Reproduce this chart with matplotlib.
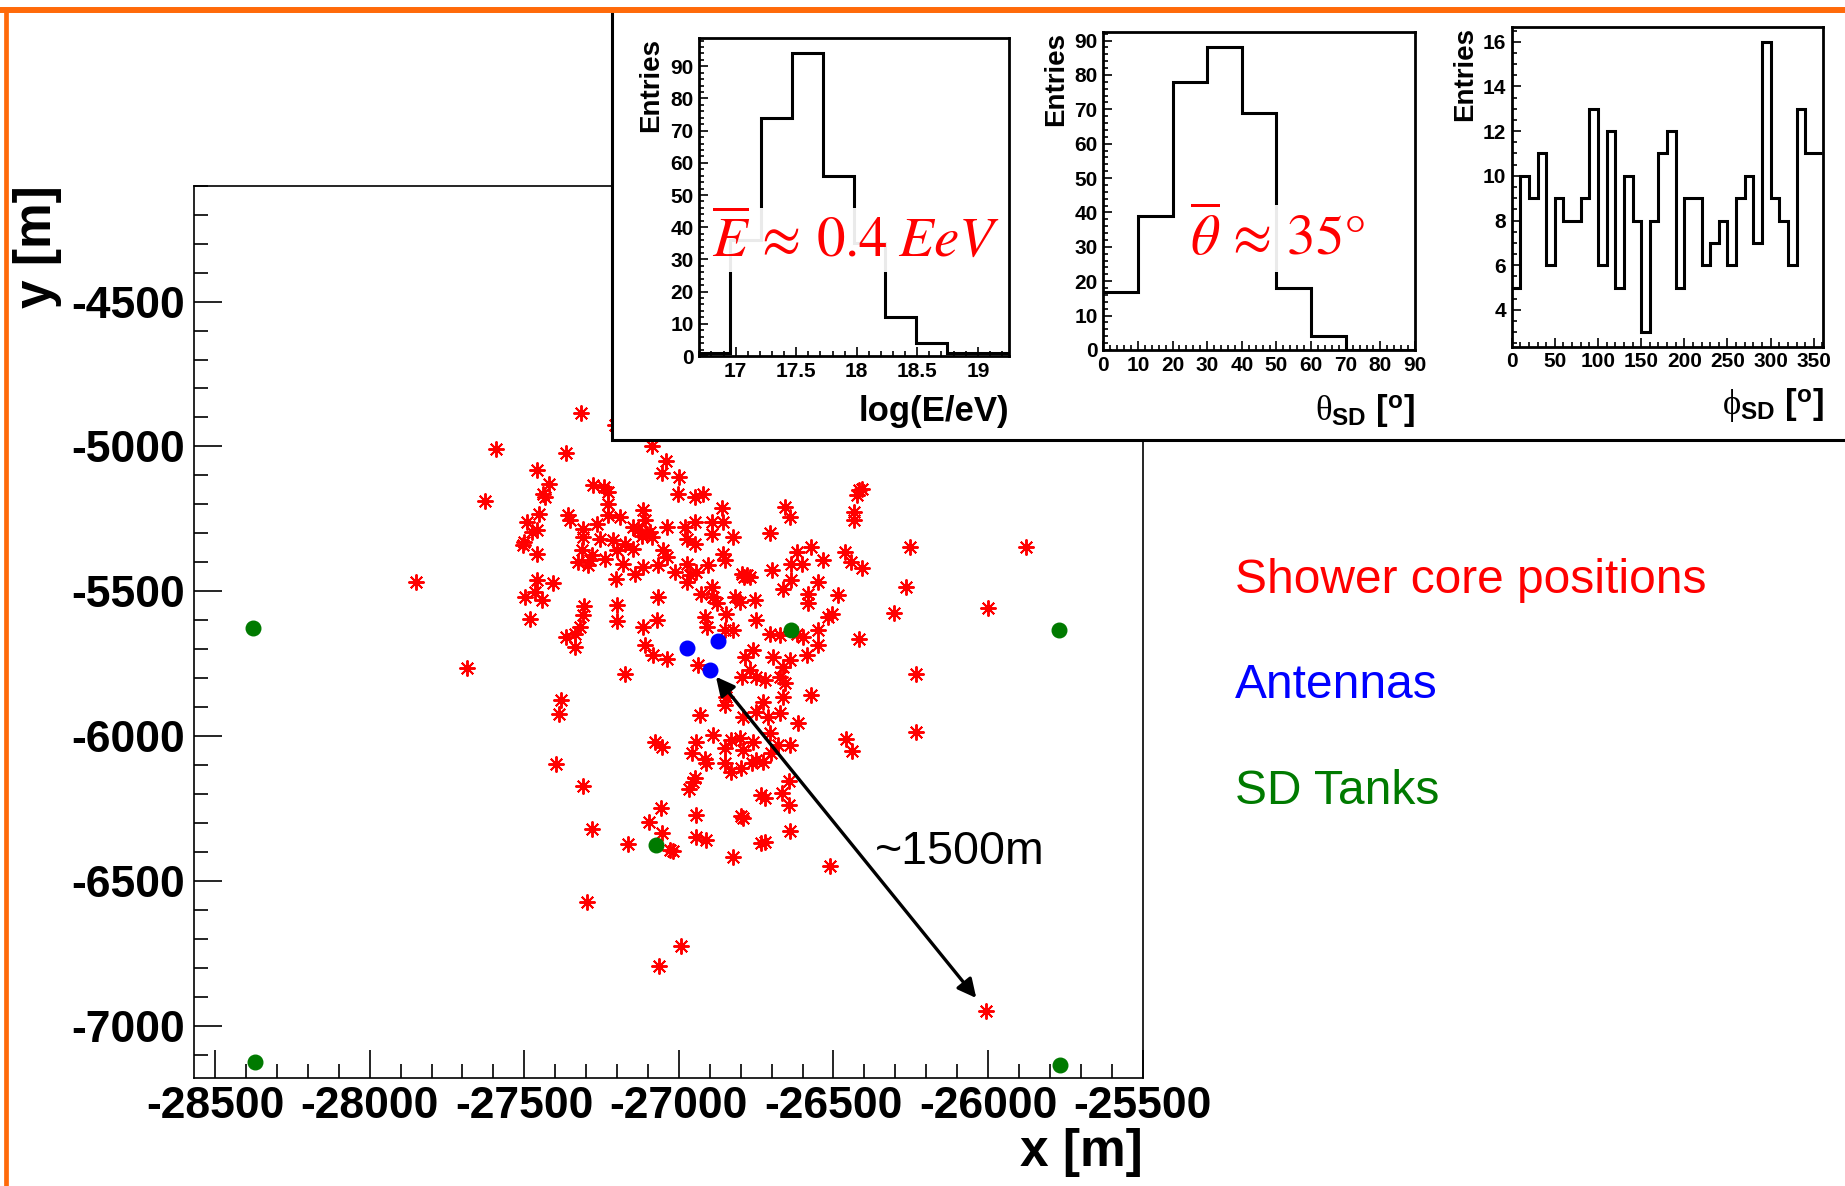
import numpy as np
import matplotlib
matplotlib.use('Agg')
import matplotlib.pyplot as plt
import matplotlib.ticker as ticker
from matplotlib.patches import Rectangle
from matplotlib.lines import Line2D

plt.rcParams['font.family'] = ['Liberation Sans', 'DejaVu Sans']
plt.rcParams['axes.unicode_minus'] = False
plt.rcParams['mathtext.fontset'] = 'custom'
plt.rcParams['mathtext.rm'] = 'Liberation Sans:bold'
plt.rcParams['mathtext.bf'] = 'Liberation Sans:bold'
plt.rcParams['mathtext.it'] = 'Liberation Serif'
plt.rcParams['mathtext.fallback'] = 'stix'

# ---- shower core positions [m] ----
core_x = [-27317, -27592, -27365, -27458, -27420, -27441, -27433, -27627, -27451, -27492,
          -27358, -27352, -27460, -27476, -27501, -27505, -27458, -27277, -27242, -27228,
          -27228, -27228, -27264, -27309, -27309, -27255, -27212, -27314, -27282, -27239,
          -27325, -27293, -27288, -27203, -27850, -27458, -27406, -27465, -27498, -27444,
          -27482, -27306, -27311, -27320, -27336, -27365, -27336, -27201, -27201, -27686,
          -27381, -27387, -27205,
          -27088, -27042, -27053, -27000, -27002, -26948, -26923, -27191, -27115, -27110,
          -27104, -27131, -27088, -27148, -27040, -26980, -26948, -26894, -26856, -26862,
          -26824, -26894, -26975, -26948, -27051, -27040, -27174, -27148, -27201, -27180,
          -27115, -27142, -27067, -27013, -26975, -26964, -26943, -26905, -26856, -26851,
          -26975, -26927, -26894, -26889, -26878, -26819, -26803, -26754, -26797, -26770,
          -26706, -26657, -26641, -26700, -26619, -26636, -26603, -26571, -26533, -26636,
          -26662, -26549, -26582, -26582, -26517, -27067, -27072, -27115, -27110, -27083,
          -27040, -26916, -26910, -26846, -26851, -26824, -26749, -26937, -27174, -26706,
          -26673, -26619, -26598, -26549, -26549, -26587, -26641, -26662, -26695, -26759,
          -26786, -26770, -26797, -26749, -26722, -26673, -26657, -26571, -26662, -26727,
          -26846, -26851, -26932, -26673, -26749, -27095, -27120, -26790, -26780,
          -26417, -26425, -26409, -26433, -26433, -26253, -25876, -26463, -26442, -26409,
          -26485, -26264, -26506, -26305, -26000, -26417, -26234,
          -26891, -27077, -27053, -26945, -26959, -26916, -26912, -27399, -27311, -26948,
          -26953, -26966, -27059, -27096, -27053, -26943, -26945, -26912, -27282, -27165,
          -27029, -27020, -27298, -26994, -27065,
          -26614, -26711, -26792, -26830, -26803, -26760, -26851, -26792, -26706, -26679,
          -26641, -26701, -26749, -26728, -26765, -26851, -26830, -26798, -26458, -26439,
          -26234, -26643, -26668, -26733, -26722, -26643, -26798, -26792, -26639, -26722,
          -26733, -26825, -26510, -26007]
core_y = [-4884, -5010, -5022, -5083, -5129, -5163, -5175, -5190, -5232, -5261,
          -5238, -5253, -5287, -5295, -5330, -5341, -5370, -5134, -5140, -5157,
          -5198, -5238, -5267, -5284, -5313, -5318, -5324, -5359, -5376, -5387,
          -5399, -5410, -5393, -5456, -5468, -5460, -5471, -5502, -5519, -5531,
          -5594, -5552, -5583, -5623, -5646, -5657, -5692, -5548, -5602, -5766,
          -5876, -5922, -4925,
          -4997, -5051, -5092, -5106, -5165, -5175, -5165, -5244, -5221, -5255,
          -5301, -5290, -5313, -5278, -5278, -5278, -5261, -5261, -5261, -5211,
          -5313, -5301, -5318, -5336, -5359, -5382, -5336, -5353, -5359, -5405,
          -5416, -5439, -5410, -5433, -5405, -5445, -5433, -5410, -5370, -5393,
          -5468, -5508, -5485, -5519, -5542, -5519, -5537, -5531, -5439, -5450,
          -5299, -5209, -5244, -5425, -5364, -5405, -5405, -5347, -5393, -5462,
          -5491, -5468, -5508, -5542, -5588, -5519, -5600, -5623, -5686, -5720,
          -5732, -5588, -5623, -5577, -5634, -5634, -5600, -5755, -5784, -5646,
          -5652, -5646, -5657, -5634, -5686, -5720, -5738, -5761, -5726, -5703,
          -5726, -5772, -5795, -5795, -5807, -5795, -5818, -5858, -5864, -5881,
          -5864, -5893, -5927, -5921, -5916, -5295, -5310, -5450, -5445,
          -5152, -5169, -5146, -5226, -5253, -5347, -5347, -5364, -5399, -5418,
          -5514, -5485, -5577, -5575, -5557, -5663, -5786,
          -5996, -6019, -6036, -6019, -6059, -6080, -6092, -6097, -6172, -6146,
          -6157, -6183, -6249, -6295, -6333, -6272, -6349, -6360, -6320, -6374,
          -6393, -6398, -6574, -6724, -6795,
          -5954, -5933, -5933, -6013, -6008, -6019, -6042, -6048, -5988, -6031,
          -6031, -6059, -6082, -6088, -6094, -6094, -6123, -6111, -6011, -6050,
          -5985, -6154, -6197, -6203, -6214, -6237, -6275, -6283, -6326, -6364,
          -6370, -6416, -6448, -6948]

antenna_x = [-26973, -26873, -26900]
antenna_y = [-5697, -5671, -5770]
tank_x = [-28378, -26636, -25771, -27074, -28371, -25768]
tank_y = [-5627, -5632, -5633, -6375, -7125, -7134]

# ---- histograms ----
loge_edges = [16.7, 16.956, 17.212, 17.468, 17.724, 17.98, 18.236, 18.492, 18.748, 19.004, 19.26]
loge_counts = [1, 36, 74, 94, 56, 35, 12, 4, 1, 1]
theta_edges = [0, 10, 20, 30, 40, 50, 60, 70, 80, 90]
theta_counts = [17, 39, 78, 88, 69, 18, 4, 0, 0]
phi_edges = list(range(0, 370, 10))
phi_counts = [5, 10, 9, 11, 6, 9, 8, 8, 9, 13, 6, 12, 5, 10, 8, 3, 8, 11,
              12, 5, 9, 9, 6, 7, 8, 6, 9, 10, 7, 16, 9, 8, 6, 13, 11, 11]

W, H = 1845, 1186


def fbox(l, t, r, b):
    return [l / W, 1 - b / H, (r - l) / W, (b - t) / H]


fig = plt.figure(figsize=(W / 100, H / 100), dpi=100)

# main map
ax = fig.add_axes(fbox(193.5, 185.7, 1142.6, 1078))
ax.plot(core_x, core_y, ls='none', marker=(8, 2, 0), ms=11.5, mew=1.4, color='red')
ax.plot(antenna_x, antenna_y, ls='none', marker='o', ms=10.5, color='#0000ff')
ax.plot(tank_x, tank_y, ls='none', marker='o', ms=10.5, color='#007a00')
ax.set_xlim(-28570, -25500)
ax.set_ylim(-7180, -4100)
ax.xaxis.set_major_locator(ticker.MultipleLocator(500))
ax.xaxis.set_minor_locator(ticker.MultipleLocator(100))
ax.yaxis.set_major_locator(ticker.MultipleLocator(500))
ax.yaxis.set_minor_locator(ticker.MultipleLocator(100))
ax.tick_params(which='both', direction='in', top=False, right=False, width=1.2)
ax.tick_params(which='major', length=20, labelsize=32, pad=6)
ax.tick_params(which='minor', length=10)
for s in ax.spines.values():
    s.set_linewidth(1.2)
ax.text(-0.164, 1.0, 'y [m]', rotation=90, ha='center', va='top',
        fontsize=37, fontweight='bold', transform=ax.transAxes)
ax.text(1.0, -0.083, 'x [m]', ha='right', va='center', fontsize=37,
        fontweight='bold', transform=ax.transAxes)

ax.annotate('', xy=(-26880, -5795), xytext=(-26038, -6904),
            arrowprops=dict(arrowstyle='<|-|>', lw=2.4, color='black',
                            mutation_scale=28, shrinkA=0, shrinkB=0))
ax.text(-26366, -6400, '~1500m', ha='left', va='center', fontsize=33.5)

fig.text(1235 / W, 1 - 580 / H, 'Shower core positions', color='red', fontsize=34.5,
         ha='left', va='center')
fig.text(1235 / W, 1 - 686 / H, 'Antennas', color='#0000ff', fontsize=34.5,
         ha='left', va='center')
fig.text(1235 / W, 1 - 792 / H, 'SD Tanks', color='#007a00', fontsize=34.5,
         ha='left', va='center')

# white inset box over the map
fig.patches.append(Rectangle((612 / W, 1 - 440 / H), (W - 612) / W + 0.01, (440 - 10.3) / H,
                             transform=fig.transFigure, fc='white', ec='black',
                             lw=2.2, zorder=5))


def hist_panel(rect, edges, counts, xlim, ylim, xmaj, xmin, ymaj, ymin,
               xlabel, ylab_x, xlab_y):
    h = fig.add_axes(rect, zorder=10)
    h.stairs(counts, edges, color='black', lw=2.2, baseline=None)
    h.set_xlim(*xlim)
    h.set_ylim(*ylim)
    h.xaxis.set_major_locator(ticker.MultipleLocator(xmaj))
    h.xaxis.set_minor_locator(ticker.MultipleLocator(xmin))
    h.yaxis.set_major_locator(ticker.MultipleLocator(ymaj))
    h.yaxis.set_minor_locator(ticker.MultipleLocator(ymin))
    h.xaxis.set_major_formatter(ticker.FuncFormatter(lambda v, p: '%g' % v))
    h.yaxis.set_major_formatter(ticker.FuncFormatter(lambda v, p: '%g' % v))
    h.tick_params(which='both', direction='in', top=False, right=False, width=1.2)
    h.tick_params(which='major', length=6.5, labelsize=15, pad=4)
    h.tick_params(which='minor', length=3.5)
    for s in h.spines.values():
        s.set_linewidth(2.0)
    h.text(ylab_x, 1.0, 'Entries', rotation=90, ha='center', va='top',
           fontsize=20, fontweight='bold', transform=h.transAxes)
    h.text(1.0, xlab_y, xlabel, ha='right', va='center', fontsize=25,
           fontweight='bold', transform=h.transAxes)
    return h


h1 = hist_panel(fbox(699.3, 38.3, 1009.3, 356), loge_edges, loge_counts,
                (16.7, 19.26), (0, 98.7), 0.5, 0.1, 10, 2,
                'log(E/eV)', -0.154, -0.176)
h1.text(0.04, 0.365, r'$\overline{E}\,\approx\,0.4\;EeV$', color='red', fontsize=41,
        math_fontfamily='stix', ha='left', va='center',
        transform=h1.transAxes, bbox=dict(fc='white', ec='none', alpha=0.92, pad=3))

h2 = hist_panel(fbox(1103.3, 32.3, 1415, 350), theta_edges, theta_counts,
                (0, 90), (0, 92.4), 10, 2, 10, 2,
                r'$\theta_{\mathrm{SD}}$ [$^{\mathrm{o}}$]', -0.150, -0.189)
h2.text(0.278, 0.352, r'$\overline{\theta}\,\approx\,35\degree$', color='red', fontsize=41,
        math_fontfamily='stix', ha='left', va='center',
        transform=h2.transAxes, bbox=dict(fc='white', ec='none', alpha=0.92, pad=3))

h3 = hist_panel(fbox(1511.7, 27.3, 1823.3, 346.7), phi_edges, phi_counts,
                (0, 361), (2.35, 16.65), 50, 10, 2, 0.5,
                r'$\phi_{\mathrm{SD}}$ [$^{\mathrm{o}}$]', -0.150, -0.183)

# orange frame lines
fig.add_artist(Line2D([0, 1], [1 - 10.3 / H] * 2, transform=fig.transFigure,
                      color='#ff6a0a', lw=4.3, zorder=20))
fig.add_artist(Line2D([6.3 / W] * 2, [0, 1 - 10.3 / H], transform=fig.transFigure,
                      color='#ff6a0a', lw=3.4, zorder=20))

# bold tick labels everywhere (ticks exist after a first draw)
fig.canvas.draw()
for a in (ax, h1, h2, h3):
    for lbl in a.get_xticklabels() + a.get_yticklabels():
        lbl.set_fontweight('bold')

fig.savefig('out.png', dpi=100)
